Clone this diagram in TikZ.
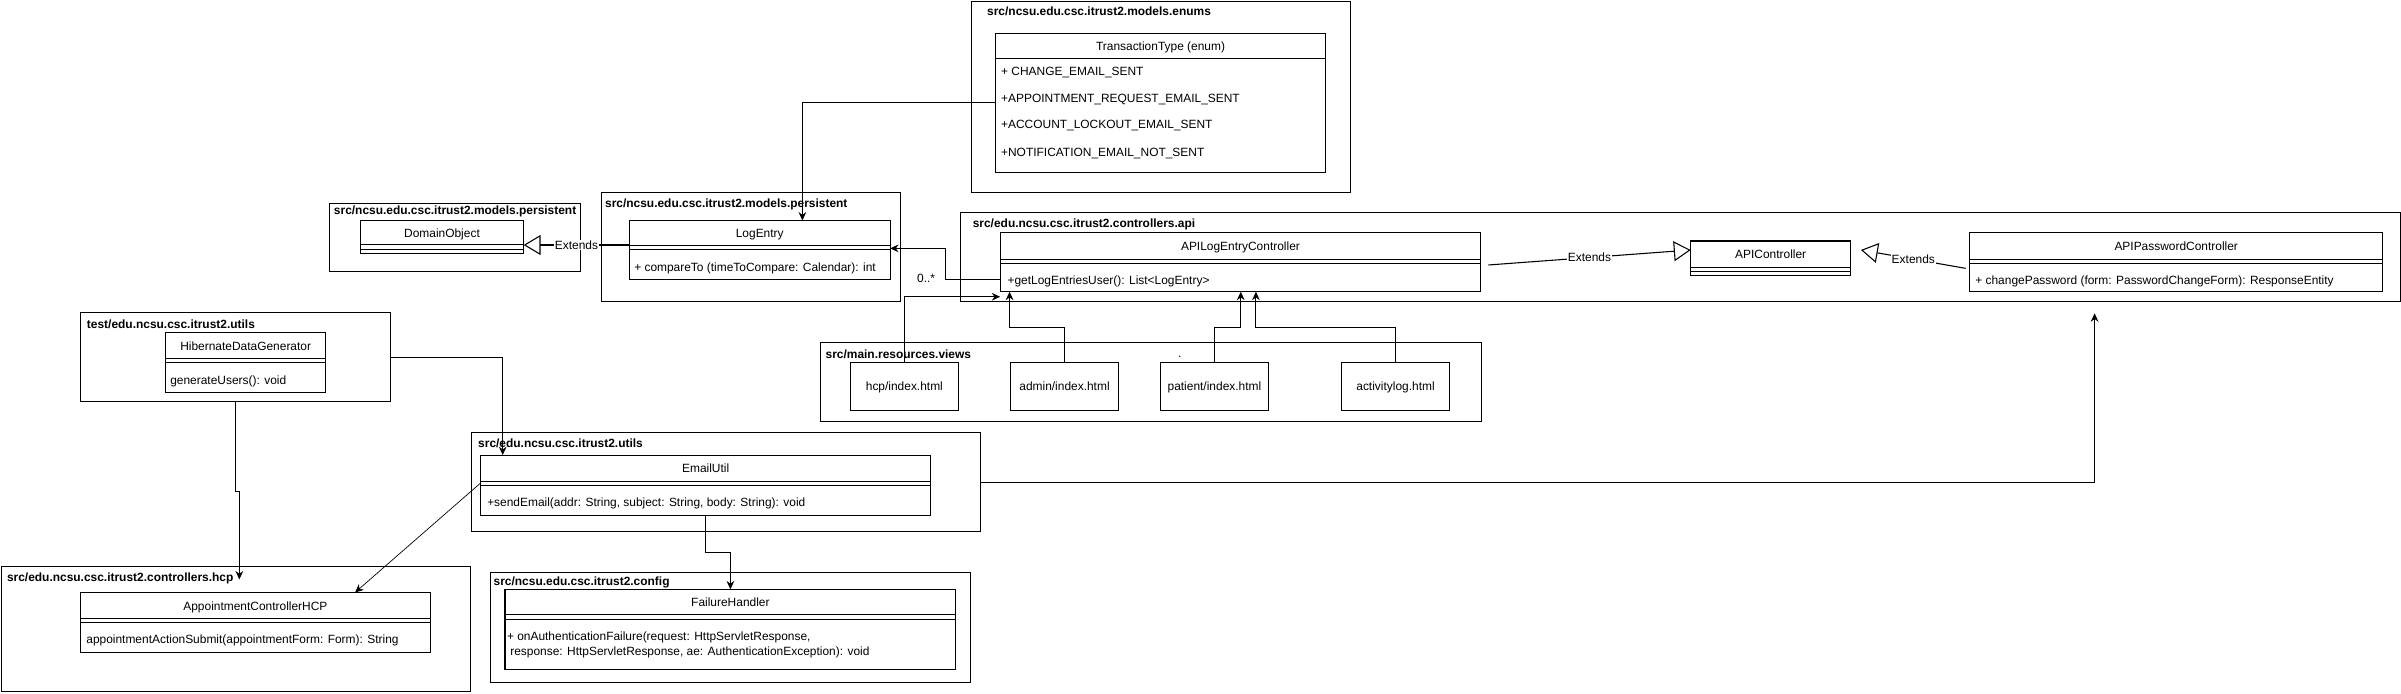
\documentclass[tikz,border=0pt]{standalone}
\usepackage{fontspec}
\setmainfont{Liberation Sans}
\usetikzlibrary{arrows.meta,calc}
\newcommand\umlfs{\fontsize{7.8}{9.6}\selectfont}
\begin{document}
\begin{tikzpicture}[x=1pt,y=-1pt,
  pkg/.style={draw, line width=0.7pt, anchor=north west, inner sep=0pt, outer sep=0pt},
  cls/.style={draw, line width=0.7pt, anchor=north west, inner sep=0pt, outer sep=0pt, fill=white},
  ln/.style={line width=0.6pt},
  ttl/.style={font=\umlfs\bfseries, anchor=west, inner sep=0pt, text height=5.6pt, text depth=0pt},
  ctxt/.style={font=\umlfs, inner sep=0pt, text height=5.6pt, text depth=0pt},
  ltxt/.style={font=\umlfs, anchor=west, inner sep=0pt, text height=5.6pt, text depth=0pt},
  lbl/.style={font=\umlfs, fill=white, inner sep=0.6pt},
  arr/.style={draw, line width=0.7pt, -{Stealth[length=5.5pt,width=5pt]}},
  thinarr/.style={draw, line width=0.45pt, -{Stealth[length=5.5pt,width=5pt]}},
  ext/.style={draw, line width=0.7pt, -{Triangle[open,length=11pt,width=13pt,fill=white]}}]
\useasboundingbox (0,0) rectangle (1568,453);

% ---------- packages ----------
\node[pkg, minimum width=247.6pt, minimum height=124.7pt] (enumpkg) at (634.6,1.1) {};
\node[ttl] (enumpkg-t) at (644.5,7.6) {src/ncsu.edu.csc.itrust2.models.enums};
\node[pkg, minimum width=163.7pt, minimum height=44.7pt] (dompkg) at (215.3,132.8) {};
\node[ttl] (dompkg-t) at (217.9,137.6) {src/ncsu.edu.csc.itrust2.models.persistent};
\node[pkg, minimum width=195.6pt, minimum height=71.1pt] (logpkg) at (392.7,125.9) {};
\node[ttl] (logpkg-t) at (395,132.8) {src/ncsu.edu.csc.itrust2.models.persistent};
\node[pkg, minimum width=940.4pt, minimum height=58.1pt] (apipkg) at (627,138.9) {};
\node[ttl] (apipkg-t) at (635.1,145.9) {src/edu.ncsu.csc.itrust2.controllers.api};
\node[pkg, minimum width=431.6pt, minimum height=51.6pt] (viewpkg) at (535.6,223.8) {};
\node[ttl] (viewpkg-t) at (539,231.4) {src/main.resources.views};
\node[ctxt] (viewdot) at (770.4,230.5) {.};
\node[pkg, minimum width=202.5pt, minimum height=58.2pt] (hdgpkg) at (52.7,204.2) {};
\node[ttl] (hdgpkg-t) at (56.6,211.6) {test/edu.ncsu.csc.itrust2.utils};
\node[pkg, minimum width=332.5pt, minimum height=64.7pt] (emailpkg) at (307.9,282.6) {};
\node[ttl] (emailpkg-t) at (312.1,289.6) {src/edu.ncsu.csc.itrust2.utils};
\node[pkg, minimum width=313.1pt, minimum height=71.9pt] (cfgpkg) at (320.5,374) {};
\node[ttl] (cfgpkg-t) at (322.2,379.3) {src/ncsu.edu.csc.itrust2.config};
\node[pkg, minimum width=306.3pt, minimum height=82.1pt] (hcppkg) at (1.1,369.7) {};
\node[ttl] (hcppkg-t) at (4.4,377.1) {src/edu.ncsu.csc.itrust2.controllers.hcp};

% ---------- classes ----------
% TransactionType
\node[cls, minimum width=216pt, minimum height=90.8pt] (tt) at (649.9,21.8) {};
\draw[ln] (649.9,38.1) -- (865.9,38.1);
\node[ctxt] (tt-t) at (757.9,30.5) {TransactionType (enum)};
\node[ltxt] (tt-1) at (653.6,46.8) {+ CHANGE\_EMAIL\_SENT};
\node[ltxt] (tt-2) at (653.6,64.2) {+APPOINTMENT\_REQUEST\_EMAIL\_SENT};
\node[ltxt] (tt-3) at (653.6,81) {+ACCOUNT\_LOCKOUT\_EMAIL\_SENT};
\node[ltxt] (tt-4) at (653.6,99.1) {+NOTIFICATION\_EMAIL\_NOT\_SENT};

% DomainObject
\node[cls, minimum width=106.7pt, minimum height=21.8pt] (dom) at (235.3,143.7) {};
\draw[ln] (235.3,159.8) -- (342,159.8);
\draw[ln] (235.3,162.6) -- (342,162.6);
\node[ctxt] (dom-t) at (288.65,152) {DomainObject};

% LogEntry
\node[cls, minimum width=170.3pt, minimum height=38.4pt] (log) at (411,144) {};
\draw[ln] (411,160.4) -- (581.3,160.4);
\draw[ln] (411,163.1) -- (581.3,163.1);
\node[ctxt] (log-t) at (496.15,152.4) {LogEntry};
\node[ltxt] (log-m) at (414,174.6) {+ compareTo (timeToCompare: Calendar): int};

% APILogEntryController
\node[cls, minimum width=313.8pt, minimum height=38.7pt] (apilog) at (653.2,151.8) {};
\draw[ln] (653.2,169.6) -- (967,169.6);
\draw[ln] (653.2,172.3) -- (967,172.3);
\node[ctxt] (apilog-t) at (810.1,161) {APILogEntryController};
\node[ltxt] (apilog-m) at (657.8,182.9) {+getLogEntriesUser(): List<LogEntry>};

% APIController
\node[cls, minimum width=104.5pt, minimum height=22.3pt] (apic) at (1104.1,157.4) {};
\draw[ln] (1104.1,174.4) -- (1208.6,174.4);
\draw[ln] (1104.1,177.1) -- (1208.6,177.1);
\node[ctxt] (apic-t) at (1156.35,166) {APIController};

% APIPasswordController
\node[cls, minimum width=269.6pt, minimum height=38.7pt] (apipw) at (1286.4,151.8) {};
\draw[ln] (1286.4,169.6) -- (1556,169.6);
\draw[ln] (1286.4,172.3) -- (1556,172.3);
\node[ctxt] (apipw-t) at (1421.2,161) {APIPasswordController};
\node[ltxt] (apipw-m) at (1289.8,182.9) {+ changePassword (form: PasswordChangeForm): ResponseEntity};

% views
\node[cls, minimum width=70.8pt, minimum height=31.5pt] (hcpv) at (555.2,236.7) {};
\node[ctxt] (hcpv-t) at (hcpv.center) {hcp/index.html};
\node[cls, minimum width=70pt, minimum height=31.5pt] (adminv) at (660.2,236.7) {};
\node[ctxt] (adminv-t) at (adminv.center) {admin/index.html};
\node[cls, minimum width=70pt, minimum height=31.5pt] (patv) at (758.1,236.7) {};
\node[ctxt] (patv-t) at (patv.center) {patient/index.html};
\node[cls, minimum width=70.9pt, minimum height=31.5pt] (actv) at (875.9,236.7) {};
\node[ctxt] (actv-t) at (actv.center) {activitylog.html};

% HibernateDataGenerator
\node[cls, minimum width=104.5pt, minimum height=39.2pt] (hdg) at (108.2,217.1) {};
\draw[ln] (108.2,233.8) -- (212.7,233.8);
\draw[ln] (108.2,236.6) -- (212.7,236.6);
\node[ctxt] (hdg-t) at (160.45,226.4) {HibernateDataGenerator};
\node[ltxt] (hdg-m) at (111,248.2) {generateUsers(): void};

% EmailUtil
\node[cls, minimum width=293.7pt, minimum height=39.2pt] (email) at (314,297.2) {};
\draw[ln] (314,314.4) -- (607.7,314.4);
\draw[ln] (314,317.1) -- (607.7,317.1);
\node[ctxt] (email-t) at (460.85,305.9) {EmailUtil};
\node[ltxt] (email-m) at (318,327.7) {+sendEmail(addr: String, subject: String, body: String): void};

% FailureHandler
\node[cls, minimum width=294.4pt, minimum height=52.1pt] (fh) at (329.8,384.9) {};
\draw[ln] (329.8,401.5) -- (624.2,401.5);
\draw[ln] (329.8,404.3) -- (624.2,404.3);
\node[ctxt] (fh-t) at (477,393.6) {FailureHandler};
\node[font=\umlfs, anchor=north west, inner sep=0pt, align=left] (fh-m) at (330.9,412.4)
  {+ onAuthenticationFailure(request: HttpServletResponse,\\\ response: HttpServletResponse, ae: AuthenticationException): void};

% AppointmentControllerHCP
\node[cls, minimum width=228.2pt, minimum height=39.4pt] (appt) at (52.7,386.9) {};
\draw[ln] (52.7,404.1) -- (280.9,404.1);
\draw[ln] (52.7,406.8) -- (280.9,406.8);
\node[ctxt] (appt-t) at (166.8,395.8) {AppointmentControllerHCP};
\node[ltxt] (appt-m) at (56.2,417.6) {appointmentActionSubmit(appointmentForm: Form): String};

% ---------- connectors ----------
\coordinate (e1) at (524,67.1);
\draw[arr] (e1 -| tt.west) -| (e1 |- log.north);

\draw[ext] (log.west |- 0,160) -- (dom.east |- 0,160)
  node[lbl, pos=0.5] (ext1) {Extends};

\draw[ext] ([xshift=5pt,yshift=-1.9pt]apilog.east) -- ([yshift=5.3pt]apic.west)
  node[lbl, midway] (ext2) {Extends};
\draw[ext] ([xshift=-2.7pt,yshift=-4.1pt]apipw.west) -- ([xshift=6.7pt,yshift=5.3pt]apic.east)
  node[lbl, pos=0.5] (ext3) {Extends};

\coordinate (j0) at (0,182.4);
\coordinate (j1) at (617.3,162.2);
\draw[arr] (apilog.west |- j0) -| (j1) -- (j1 -| log.east);
\node[ctxt] (mult) at (604.8,181.4) {0..*};

\coordinate (h1) at (0,193.8);
\draw[arr] (hcpv.north) |- (apilog.south west |- h1);
\coordinate (a1) at (659.3,213.8);
\draw[arr] (adminv.north) |- (a1) -- (a1 |- apilog.south);
\coordinate (p1) at (810.3,213.8);
\draw[arr] (patv.north) |- (p1) -- (p1 |- apilog.south);
\coordinate (q1) at (820.2,213.8);
\draw[arr] (actv.north) |- (q1) -- (q1 |- apilog.south);

\coordinate (k1) at (328.3,0);
\draw[arr] (hdgpkg.east) -| (k1 |- email.north);

\coordinate (r1) at (156.3,321);
\coordinate (r2) at (156.3,378.4);
\draw[arr] (hdgpkg.south) |- (r1) -- (r2);

\coordinate (s1) at (231.9,0);
\draw[thinarr] ([yshift=1.5pt]email.west) -- (s1 |- appt.north);

\draw[arr] (email.south) -- ++(0,24.6) -| (fh.north);

\coordinate (u1) at (1367.9,204.6);
\draw[arr] (emailpkg.east) -| (u1);
\end{tikzpicture}
\end{document}
